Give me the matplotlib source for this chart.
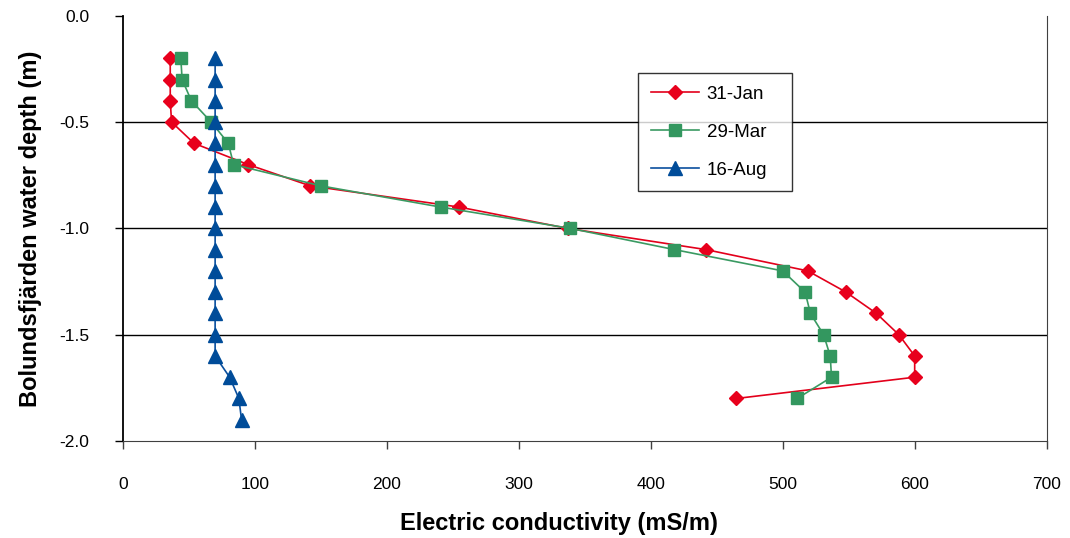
import matplotlib.pyplot as plt

plt.rcParams['font.family'] = ['Liberation Sans', 'DejaVu Sans']

# depth (m) and conductivity (mS/m)
depth_jan = [-0.2, -0.3, -0.4, -0.5, -0.6, -0.7, -0.8, -0.9, -1.0,
             -1.1, -1.2, -1.3, -1.4, -1.5, -1.6, -1.7, -1.8]
cond_jan = [36, 36, 36, 37, 54, 95, 142, 255, 337,
            442, 519, 548, 571, 588, 600, 600, 465]

depth_mar = [-0.2, -0.3, -0.4, -0.5, -0.6, -0.7, -0.8, -0.9, -1.0,
             -1.1, -1.2, -1.3, -1.4, -1.5, -1.6, -1.7, -1.8]
cond_mar = [44, 45, 52, 67, 80, 84, 150, 241, 339,
            418, 500, 517, 521, 531, 536, 537, 511]

depth_aug = [-0.2, -0.3, -0.4, -0.5, -0.6, -0.7, -0.8, -0.9, -1.0,
             -1.1, -1.2, -1.3, -1.4, -1.5, -1.6, -1.7, -1.8, -1.9]
cond_aug = [70, 70, 70, 70, 70, 70, 70, 70, 70,
            70, 70, 70, 70, 70, 70, 81, 88, 90]

x_ticks = [0, 100, 200, 300, 400, 500, 600, 700]
y_ticks = [0.0, -0.5, -1.0, -1.5, -2.0]

fig = plt.figure(figsize=(10.7, 5.38), dpi=100)
ax = fig.add_axes([0.1147, 0.1803, 0.8635, 0.7905])

# gridlines
for y in [-0.5, -1.0, -1.5]:
    ax.axhline(y, color='black', lw=1.0, zorder=1)

ax.plot(cond_jan, depth_jan, color='#E3001B', lw=1.2, marker='D', ms=7,
        mfc='#E8001C', mec='#E8001C', label='31-Jan', zorder=3)
ax.plot(cond_mar, depth_mar, color='#3A9A62', lw=1.2, marker='s', ms=8.5,
        mfc='#33975F', mec='#33975F', label='29-Mar', zorder=3)
ax.plot(cond_aug, depth_aug, color='#0A4F9E', lw=1.2, marker='^', ms=9.5,
        mfc='#004C99', mec='#004C99', label='16-Aug', zorder=3)

ax.set_xlim(0, 700)
ax.set_ylim(-2.0, 0.0)
ax.set_xticks(x_ticks)
ax.set_yticks(y_ticks)
ax.set_yticklabels([f'{v:.1f}' for v in y_ticks])

ax.spines['top'].set_visible(False)
ax.spines['right'].set_color('#404040')
ax.spines['bottom'].set_color('#404040')
ax.spines['left'].set_linewidth(1.3)
ax.tick_params(axis='y', direction='out', length=6, width=1, pad=18, labelsize=12.5)
ax.tick_params(axis='x', direction='out', length=6, width=1, color='#404040',
               pad=20, labelsize=12.5)

ax.set_xlabel('Electric conductivity (mS/m)', fontsize=17, fontweight='bold')
ax.xaxis.set_label_coords(0.4725, -0.193)
ax.xaxis.label.set_va('center')
ax.set_ylabel('Bolundsfjärden water depth (m)', fontsize=17, fontweight='bold')
ax.yaxis.set_label_coords(-0.100, 0.5)
ax.yaxis.label.set_va('center')

# legend box: left 638px, top 73px, width ~154px
leg = ax.legend(loc='upper left', bbox_to_anchor=(0.5577, 0.0, 0.1667, 0.865),
                mode='expand', fontsize=13.5,
                frameon=True, fancybox=False, edgecolor='black', handlelength=2.6,
                labelspacing=1.11, borderpad=0.67, handletextpad=0.4, borderaxespad=0)
leg.get_frame().set_linewidth(1.0)

fig.savefig('out.png', dpi=100)
